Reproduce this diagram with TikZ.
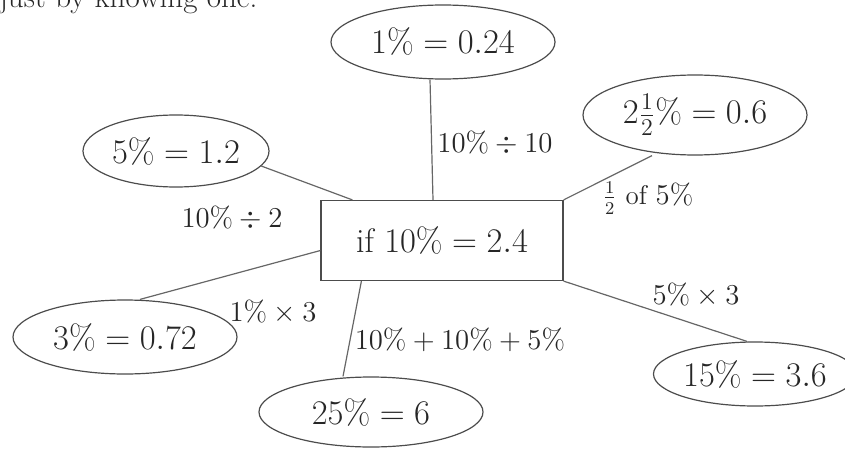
\documentclass[tikz,border=0pt]{standalone}
\usetikzlibrary{shapes.geometric}
\begin{document}
\begin{tikzpicture}[x=0.5pt,y=-0.5pt,
    pct/.style={ellipse, draw=black!70, line width=0.6pt, inner sep=0pt,
      minimum width=112pt, minimum height=37pt, text=black!85,
      font=\fontsize{17}{20}\selectfont},
    given/.style={rectangle, draw=black!70, line width=0.6pt,
      minimum width=121pt, minimum height=40pt, text=black!85,
      font=\fontsize{17}{20}\selectfont},
    rule/.style={inner sep=0pt, text=black!85, font=\fontsize{13.5}{16}\selectfont},
    link/.style={draw=black!60, line width=0.6pt}]
    \useasboundingbox (0,0) rectangle (845,449);

    % Last line of the text above, cut by the page edge
    \node[anchor=base west, inner sep=0pt, text=black!85,
      font=\fontsize{15.5}{18}\selectfont] (intro) at (-1,8) {just by knowing one.};

    % The given value
    \node[given] (ten) at (442,240.5) {if $10\% = 2.4$};

    % What follows from it
    \node[pct] (one) at (443,42) {$1\% = 0.24$};
    \node[pct, minimum height=40pt] (twohalf) at (695,115) {$2\frac{1}{2}\% = 0.6$};
    \node[pct, minimum width=93pt, minimum height=36pt] (five) at (176,151) {$5\% = 1.2$};
    \node[pct] (three) at (125,337) {$3\% = 0.72$};
    \node[pct, minimum height=35pt] (twentyfive) at (371,412) {$25\% = 6$};
    \node[pct, minimum width=100pt, minimum height=32pt] (fifteen) at (755,374) {$15\% = 3.6$};

    % Spokes
    \draw[link] ([xshift=-6.5pt]one.south) -- ([xshift=-4.5pt]ten.north);
    \draw[link] ([xshift=-21.5pt]twohalf.south) -- (ten.north east);
    \draw[link] (five.-10) -- ([xshift=16pt]ten.north west);
    \draw[link] ([xshift=7.5pt]three.north) -- ([yshift=-5pt]ten.west);
    \draw[link] ([xshift=-14pt]twentyfive.north) -- ([xshift=20.5pt]ten.south west);
    \draw[link] ([xshift=-4pt]fifteen.north) -- (ten.south east);

    % How each one is found
    \node[rule] (r1) at (495,143) {$10\% \div 10$};
    \node[rule] (r2) at (648,198) {$\frac{1}{2}$ of $5\%$};
    \node[rule] (r5) at (232,218) {$10\% \div 2$};
    \node[rule] (r3) at (273,312) {$1\% \times 3$};
    \node[rule] (r25) at (460,340) {$10\% + 10\% + 5\%$};
    \node[rule] (r15) at (696,295) {$5\% \times 3$};
\end{tikzpicture}
\end{document}
